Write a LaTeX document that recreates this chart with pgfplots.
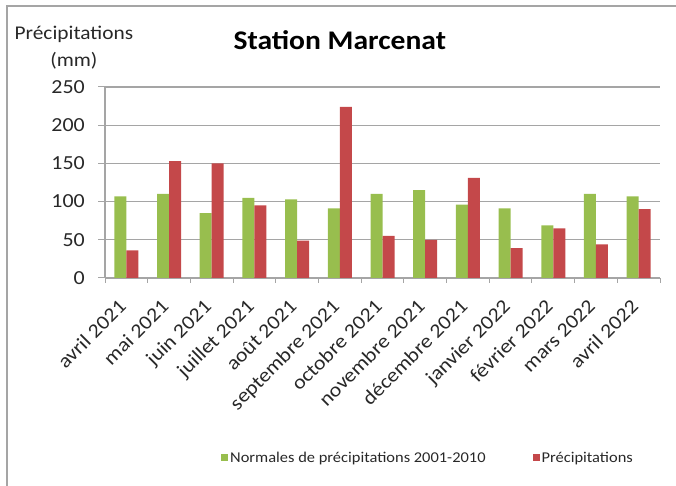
\documentclass[border=0pt]{standalone}
\usepackage{pgfplots}
\pgfplotsset{compat=1.18}
\usepackage{fontspec}
\setmainfont{Carlito}[FakeStretch=1.1]
\definecolor{cgreen}{RGB}{152,190,78}
\definecolor{cred}{RGB}{196,72,74}
\definecolor{cgrid}{RGB}{165,165,165}
\definecolor{ctext}{RGB}{40,40,40}
\begin{document}
\begin{tikzpicture}
\useasboundingbox (0,0) rectangle (676bp,486bp);
\draw[color=cgrid, line width=1.5bp] (7bp,0) -- (7bp,480bp) -- (676bp,480bp);
\begin{axis}[
  at={(105bp,208bp)}, anchor=south west,
  scale only axis, width=555bp, height=191bp,
  ybar=0pt, bar width=12bp,
  ymin=0, ymax=250, ytick={0,50,...,250},
  xmin=-0.5, xmax=12.5,
  xtick={0,...,12},
  xticklabels={avril 2021,mai 2021,juin 2021,juillet 2021,août 2021,septembre 2021,octobre 2021,novembre 2021,décembre 2021,janvier 2022,février 2022,mars 2022,avril 2022},
  minor xtick={-0.5,0.5,...,12.5},
  axis lines=left, axis line style={-, color=cgrid, line width=1.2bp},
  major x tick style={draw=none},
  minor tick length=5bp, major tick length=7bp,
  tick align=outside,
  tick style={color=cgrid, line width=1bp},
  ymajorgrids, grid style={color=cgrid, line width=1.2bp},
  /pgf/number format/assume math mode=true,
  ticklabel style={font=\fontsize{20}{24}\selectfont, text=ctext},
  xticklabel style={xshift=-9bp, yshift=-13bp, rotate=45, anchor=north east, inner sep=0pt},
  yticklabel style={inner sep=0pt, xshift=-13bp},
  title={\textbf{Station Marcenat}},
  title style={at={(axis description cs:0.423,1.215)}, anchor=center, font=\fontsize{27}{30}\selectfont, text=black},
  ylabel={Précipitations\\(mm)},
  ylabel style={rotate=-90, at={(axis description cs:-0.056,1.205)}, anchor=center, align=center, font=\fontsize{19.5}{27}\selectfont, text=ctext},
  legend columns=2,
  legend style={at={(axis description cs:0.582,-0.942)}, anchor=center, draw=none, fill=none, font=\fontsize{15}{18}\selectfont, text=ctext,
    /tikz/every even column/.append style={column sep=45bp}},
  legend image code/.code={\fill[#1] (0bp,-3.5bp) rectangle (7bp,3.5bp);},
]
\addplot[fill=cgreen, draw=none] coordinates {(0,107) (1,110) (2,85) (3,105) (4,103) (5,91) (6,110) (7,115) (8,96) (9,91) (10,69) (11,110) (12,107)};
\addplot[fill=cred, draw=none] coordinates {(0,36) (1,153) (2,150) (3,95) (4,49) (5,224) (6,55) (7,50) (8,131) (9,39) (10,65) (11,44) (12,90)};
\legend{Normales de précipitations 2001-2010, Précipitations}
\end{axis}
\end{tikzpicture}
\end{document}
